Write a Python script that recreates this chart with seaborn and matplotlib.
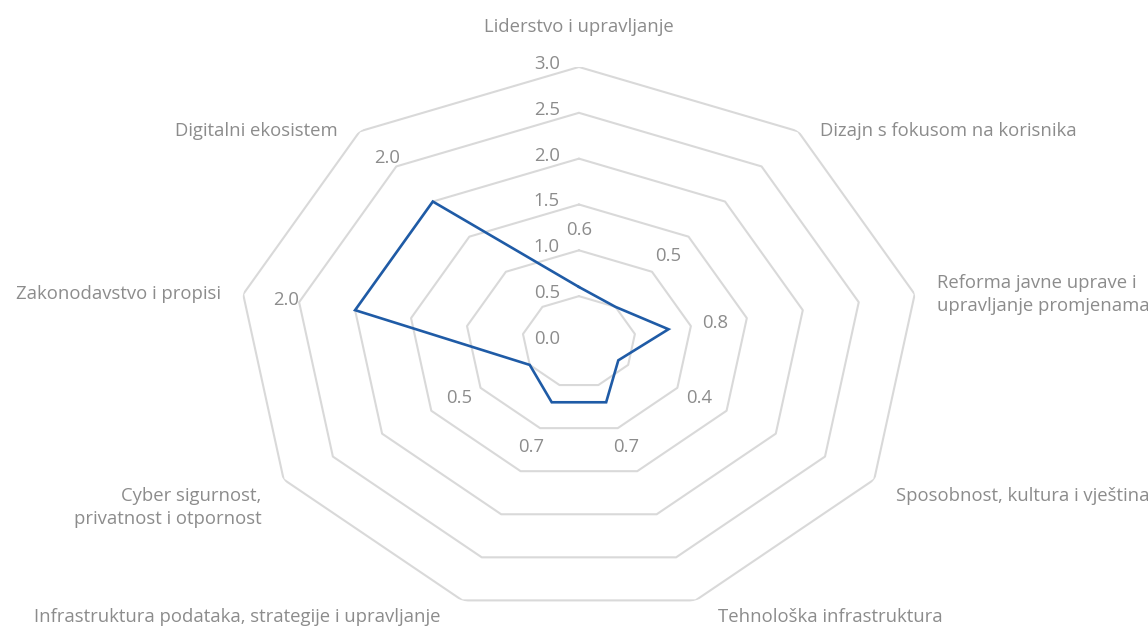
import numpy as np
import pandas as pd
import matplotlib.pyplot as plt
import matplotlib.transforms as mtransforms
import seaborn as sns

# Data
categories = [
    "Liderstvo i upravljanje",
    "Dizajn s fokusom na korisnika",
    "Reforma javne uprave i\nupravljanje promjenama",
    "Sposobnost, kultura i vještina",
    "Tehnološka infrastruktura",
    "Infrastruktura podataka, strategije i upravljanje",
    "Cyber sigurnost,\nprivatnost i otpornost",
    "Zakonodavstvo i propisi",
    "Digitalni ekosistem",
]
scores = [0.6, 0.5, 0.8, 0.4, 0.7, 0.7, 0.5, 2.0, 2.0]
grid_levels = [0.5, 1.0, 1.5, 2.0, 2.5, 3.0]
tick_values = [0.0, 0.5, 1.0, 1.5, 2.0, 2.5, 3.0]
tick_labels = ["0.0", "0.5", "1.0", "1.5", "2.0", "2.5", "3.0"]

sns.set_theme(style="white")
plt.rcParams['font.family'] = ['Open Sans', 'DejaVu Sans']

text_color = "#8c8c8c"
grid_color = "#d9d9d9"
line_color = "#1f5ba6"
fs = 13.3

n = len(categories)
angles = np.linspace(0, 2 * np.pi, n, endpoint=False)
closed = np.append(angles, angles[0])

fig = plt.figure(figsize=(11.48, 6.26), dpi=100)
ax = fig.add_axes([0.2073, 0.0144, 0.594, 0.8786], projection="polar")
ax.set_aspect("auto")
ax.set_theta_offset(np.pi / 2)
ax.set_theta_direction(-1)
ax.set_ylim(0, 3)
ax.grid(False)
ax.spines["polar"].set_visible(False)
ax.set_xticks([])
ax.set_yticks([])

# ------------------------
# Polygon grid
# ------------------------
for lev in grid_levels:
    ax.plot(closed, [lev] * (n + 1), color=grid_color, lw=1.5, zorder=1)

# ------------------------
# Score line
# ------------------------
df = pd.DataFrame({"angle": closed, "score": scores + scores[:1]})
sns.lineplot(data=df, x="angle", y="score", sort=False, estimator=None,
             ax=ax, color=line_color, lw=1.9, zorder=3)
ax.lines[-1].set_solid_joinstyle("miter")
ax.set_xlabel("")
ax.set_ylabel("")

# radial tick labels
tick_tr = mtransforms.offset_copy(ax.transData, fig=fig, x=-19, y=3, units="dots")
for v, lab in zip(tick_values, tick_labels):
    ax.text(0, v, lab, transform=tick_tr, ha="right", va="center",
            color=text_color, fontsize=fs)

# data labels (small values sit on a common ring, large ones just outside)
for a, v in zip(angles, scores):
    r_lab = v + 0.62 if v >= 1.0 else 1.22
    ax.text(a, r_lab, f"{v:.1f}", ha="center", va="center",
            color=text_color, fontsize=fs)

# category labels
for a, lab in zip(angles, categories):
    s, c = np.sin(a), np.cos(a)
    if abs(s) < 0.1:
        dx, dy, ha, va = 0, 40, "center", "center"
    else:
        dx = 22 if s > 0 else -22
        ha = "left" if s > 0 else "right"
        if c > 0:
            dy, va = 0, "center"
        else:
            dy, va = -8, "top"
    tr = mtransforms.offset_copy(ax.transData, fig=fig, x=dx, y=dy, units="dots")
    ax.text(a, 3.0, lab, transform=tr, ha=ha, va=va, color=text_color,
            fontsize=fs, linespacing=1.35)

plt.savefig("out.png", dpi=100, facecolor="white")
